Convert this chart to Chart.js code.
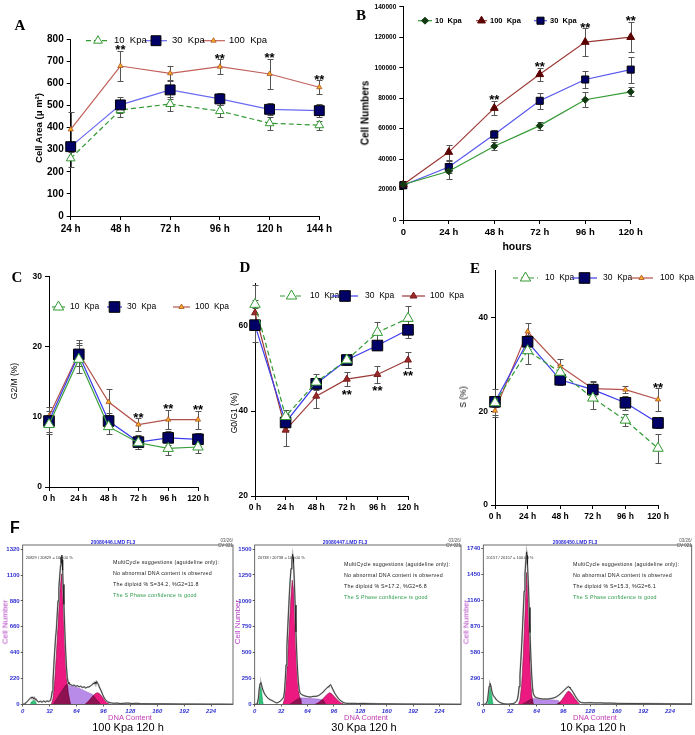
<!DOCTYPE html>
<html>
<head>
<meta charset="utf-8">
<script src="https://cdn.jsdelivr.net/npm/chart.js@4.4.1/dist/chart.umd.min.js"></script>
<style>
  body { margin: 0; width: 695px; height: 735px; position: relative; background: #fff; overflow: hidden;
         font-family: "Liberation Sans", Arial, sans-serif; }
  canvas { position: absolute; }
  .t { position: absolute; white-space: nowrap; line-height: 1; transform: translate(-50%, -50%); }
  .l { position: absolute; white-space: nowrap; line-height: 1; transform: translateY(-50%); }
  .rt { position: absolute; white-space: nowrap; line-height: 1; transform: translate(-100%, -50%); }
  .r { transform: translate(-50%, -50%) rotate(-90deg); }
  .let { font: bold 15px "Liberation Serif", "Times New Roman", serif; }
</style>
</head>
<body>
<script>
// ---------- A : cell area ----------
const timesA = ['24 h', '48 h', '72 h', '96 h', '120 h', '144 h'];
const areaK10 = [261, 480, 507, 475, 420, 411];
const areaK10Err = [40, 30, 30, 28, 30, 20];
const areaK30 = [314, 503, 571, 530, 483, 477];
const areaK30Err = [22, 35, 40, 28, 27, 28];
const areaK100 = [392, 679, 646, 676, 643, 583];
const areaK100Err = [80, 70, 32, 33, 70, 32];
const areaSig = [0, 1, 0, 1, 1, 1];

// ---------- B : cell numbers ----------
const timesB = ['0', '24 h', '48 h', '72 h', '96 h', '120 h'];
const numK10 = [23300, 32000, 48500, 62000, 79000, 84200];
const numK10Err = [2500, 4800, 2800, 2700, 5000, 3000];
const numK100 = [23300, 44600, 73500, 95700, 116900, 120100];
const numK100Err = [2000, 5000, 4800, 4400, 9000, 10000];
const numK30 = [22800, 34800, 56100, 78300, 92300, 98800];
const numK30Err = [1500, 4000, 3300, 5300, 5600, 8500];
const numSig = [0, 0, 1, 1, 1, 1];

// ---------- C, D, E : cell cycle phases ----------
const timesCDE = ['0 h', '24 h', '48 h', '72 h', '96 h', '120 h'];
const g2mK10 = [8.9, 18.2, 8.6, 6.3, 5.5, 5.7];
const g2mK10Err = [1.4, 2.0, 1.1, 0.9, 0.9, 0.9];
const g2mK30 = [9.4, 18.9, 9.4, 6.4, 7.0, 6.8];
const g2mK30Err = [1.5, 1.6, 1.2, 1.0, 1.0, 0.9];
const g2mK100 = [10.1, 19.1, 12.1, 8.9, 9.6, 9.6];
const g2mK100Err = [1.3, 1.9, 1.8, 0.9, 1.4, 1.3];
const g2mSig = [0, 0, 0, 1, 1, 1];

const g01K10 = [65.1, 38.7, 46.8, 52.0, 58.5, 61.8];
const g01K10Err = [4.5, 1.5, 1.8, 1.2, 2.5, 3.0];
const g01K30 = [60.2, 37.3, 46.4, 52.0, 55.4, 59.1];
const g01K30Err = [4.0, 1.8, 1.3, 1.0, 1.0, 2.0];
const g01K100 = [63.1, 35.5, 43.5, 47.5, 48.6, 52.0];
const g01K100Err = [3.0, 3.7, 2.8, 1.7, 2.0, 1.8];
const g01Sig = [0, 0, 0, 1, 1, 1];

const sK10 = [21.8, 32.9, 28.3, 22.8, 18.1, 12.1];
const sK10Err = [3.0, 2.8, 1.5, 2.3, 1.2, 3.1];
const sK30 = [22.0, 34.8, 26.7, 24.6, 21.8, 17.5];
const sK30Err = [1.0, 1.5, 1.2, 1.8, 1.5, 1.1];
const sK100 = [20.1, 37.0, 29.6, 24.8, 24.6, 22.5];
const sK100Err = [1.0, 1.7, 1.6, 1.5, 0.8, 2.4];
const sSig = [0, 0, 0, 0, 0, 1];

// ---------- F : DNA histograms [channel, count] ----------
const hist100 = [[0,0],[2,5],[4,15],[6,30],[8,45],[10,60],[11,55],[12,62],[13,48],[14,58],[15,40],[16,45],[17,30],[19,22],[21,28],[23,20],[25,30],[27,22],[29,30],[31,25],[33,35],[34,60],[35,110],[36,200],[37,330],[38,450],[39,560],[40,640],[41,760],[42,880],[43,990],[44,1090],[45,1180],[45.5,1250],[46,1200],[46.5,1270],[47,1230],[47.5,1140],[48,1020],[49,850],[50,640],[51,460],[52,320],[53,230],[54,190],[55,175],[57,170],[59,160],[61,165],[63,155],[65,160],[67,150],[69,155],[71,145],[73,150],[75,140],[77,148],[79,150],[81,160],[83,170],[84,182],[85,175],[86,190],[87,178],[88,195],[89,180],[90,170],[91,150],[93,120],[95,85],[97,55],[99,35],[101,22],[104,15],[108,10],[112,12],[116,8],[120,10],[125,12],[130,8],[135,10],[140,7],[150,6],[160,6],[175,5],[190,4],[205,4],[220,3],[235,3],[250,2]];
const g1Fit100 = [[34,0],[36,50],[38,200],[40,420],[42,680],[44,930],[46,1110],[47,1060],[48,880],[50,520],[52,250],[54,100],[56,25],[57,0]];
const sFit100 = [[36,0],[51.5,170],[60,158],[68,135],[76,108],[83,86],[88,40],[93,0]];
const g2Fit100 = [[74,0],[78,25],[81,50],[84,78],[87,96],[89,100],[91,94],[94,70],[97,42],[100,18],[103,5],[105,0]];
const ovlA100 = [[36,0],[51.5,170],[53,168],[54,100],[56,25],[57,0]];
const ovlB100 = [[74,0],[78,25],[81,50],[84,77],[86,58],[88,40],[93,0]];
const debris100 = [[9,0],[10,20],[12,32],[14,34],[15,25],[16,10],[17,0]];

const hist30 = [[0,0],[3,5],[4.5,60],[5.5,150],[6.5,200],[7.5,212],[8.5,180],[10,140],[11.5,110],[13,90],[15,70],[17,55],[19,45],[21,38],[23,30],[25,20],[27,15],[29,22],[31,33],[33,48],[35,70],[36,120],[37,230],[38,380],[39,560],[40,730],[41,900],[42,1060],[43,1200],[44,1310],[45,1380],[46,1450],[46.5,1420],[47,1370],[48,1200],[49,960],[50,700],[51,480],[52,320],[53,210],[54,140],[55,110],[57,95],[59,88],[61,82],[63,78],[65,75],[67,72],[69,75],[71,78],[73,78],[75,80],[77,85],[79,95],[81,108],[83,120],[85,140],[87,156],[89,170],[90,178],[91,185],[92,190],[93,175],[95,140],[97,110],[99,85],[101,62],[103,45],[105,32],[107,22],[110,12],[115,10],[120,11],[125,9],[130,10],[140,8],[150,7],[165,6],[180,5],[200,4],[225,3],[250,2]];
const g1Fit30 = [[34,0],[36,50],[38,210],[40,460],[42,760],[44,1050],[45.5,1200],[47,1120],[48,920],[50,520],[52,240],[54,90],[56,20],[57,0]];
const sFit30 = [[42,0],[54.5,66],[62,62],[70,57],[78,52],[83,45],[86,0]];
const g2Fit30 = [[73,0],[77,15],[81,40],[85,75],[88,100],[90.5,114],[93,105],[96,80],[100,45],[104,18],[108,4],[110,0]];
const ovlA30 = [[42,0],[54,63],[55,55],[56,20],[57,0]];
const ovlB30 = [[73,0],[77,15],[81,40],[83,45],[86,0]];
const debris30 = [[4,0],[5,60],[6.5,170],[7.5,195],[8.5,120],[9.5,40],[10.5,0]];

const hist10 = [[0,0],[3,5],[5,40],[6,120],[7,200],[8,235],[9,210],[10,160],[11,120],[12,100],[14,75],[16,50],[18,35],[20,23],[22,15],[24,10],[26,6],[28,5],[30,4],[32,6],[34,8],[36,10],[38,20],[40,38],[41,60],[42,110],[43,200],[44,330],[45,480],[46,650],[47,840],[48,1050],[49,1260],[50,1450],[51,1600],[52,1700],[52.5,1660],[53,1560],[54,1350],[55,1080],[56,800],[57,540],[58,330],[59,190],[60,120],[62,85],[64,75],[66,70],[68,66],[70,63],[72,60],[74,62],[76,60],[78,62],[80,64],[82,68],[84,72],[86,78],[88,88],[90,100],[92,115],[94,132],[96,150],[98,168],[100,185],[102,200],[103,195],[104,185],[106,160],[108,132],[110,100],[112,70],[114,45],[116,28],[118,20],[122,18],[128,20],[134,17],[140,18],[146,15],[152,16],[160,13],[175,11],[190,10],[205,9],[220,8],[235,7],[250,6]];
const g1Fit10 = [[42,0],[44,50],[46,220],[48,560],[50,1000],[51,1260],[52,1470],[53,1330],[54,1050],[55,760],[56,480],[57,260],[58,120],[59,50],[60,0]];
const sFit10 = [[46,0],[59,68],[66,65],[74,58],[82,52],[90,45],[93,0]];
const g2Fit10 = [[88,0],[91,20],[94,50],[97,90],[100,130],[102,150],[104,140],[107,105],[110,65],[113,30],[116,0]];
const ovlA10 = [[46,0],[58,63],[59,50],[60,0]];
const ovlB10 = [[88,0],[91,20],[92,15],[93,0]];
const debris10 = [[5,0],[6,80],[7,170],[8,225],[9,190],[10,110],[11,40],[12,0]];

const histYTicks = [
  [0, 220, 440, 660, 880, 1100, 1320],
  [0, 250, 500, 750, 1000, 1250, 1500],
  [0, 290, 580, 870, 1160, 1450, 1740]
];
const histXTicks = [0, 32, 64, 96, 128, 160, 192, 224];
const histYTop = [1355, 1539, 1776];

// ---------------------------------------------------------------
Chart.defaults.font.family = '"Liberation Sans", Arial, sans-serif';
Chart.defaults.color = '#000';
Chart.defaults.animation = false;
Chart.defaults.events = [];
Chart.defaults.plugins.legend.display = false;
Chart.defaults.plugins.tooltip.enabled = false;

function txt(s, x, y, css, cls) {
  var d = document.createElement('div');
  d.className = cls || 't';
  d.textContent = s;
  d.style.cssText = 'left:' + x + 'px;top:' + y + 'px;' + (css || '');
  document.body.appendChild(d);
  return d;
}

function place(box) {
  var c = document.createElement('canvas');
  c.width = box[2]; c.height = box[3];
  c.style.left = box[0] + 'px'; c.style.top = box[1] + 'px';
  c.style.width = box[2] + 'px'; c.style.height = box[3] + 'px';
  document.body.appendChild(c);
  return c;
}

function marker(ctx, ds, x, y) {
  ctx.fillStyle = ds.pointBackgroundColor;
  ctx.strokeStyle = ds.pointBorderColor;
  ctx.lineWidth = ds.pointBorderWidth;
  Chart.helpers.drawPoint(ctx, {pointStyle: ds.pointStyle, radius: ds.pointRadius,
    borderWidth: ds.pointBorderWidth, rotation: 0}, x, y);
}

// error bars, significance stars and the in-plot legend
var extras = {
  id: 'extras',
  beforeDatasetsDraw: function(chart, args, o) {
    if (!o.err) return;
    var ctx = chart.ctx, ys = chart.scales.y;
    ctx.save();
    ctx.strokeStyle = o.errColor || '#555';
    ctx.lineWidth = 1;
    chart.data.datasets.forEach(function(ds, i) {
      var meta = chart.getDatasetMeta(i);
      ds.data.forEach(function(v, j) {
        var e = o.err[i][j];
        var x = Math.round(meta.data[j].x) + 0.5;
        var y1 = Math.round(ys.getPixelForValue(v + e)) + 0.5;
        var y2 = Math.round(ys.getPixelForValue(v - e)) + 0.5;
        ctx.beginPath();
        ctx.moveTo(x, y1); ctx.lineTo(x, y2);
        ctx.moveTo(x - 3, y1); ctx.lineTo(x + 3, y1);
        ctx.moveTo(x - 3, y2); ctx.lineTo(x + 3, y2);
        ctx.stroke();
      });
    });
    ctx.restore();
  },
  afterDatasetsDraw: function(chart, args, o) {
    var ctx = chart.ctx, ys = chart.scales.y, xs = chart.scales.x;
    ctx.save();
    if (o.sig) {
      ctx.font = 'bold 13px "Liberation Sans", Arial';
      ctx.fillStyle = '#000';
      ctx.textAlign = 'center';
      ctx.textBaseline = 'alphabetic';
      o.sig.forEach(function(s, j) {
        if (!s) return;
        var ext = null;
        chart.data.datasets.forEach(function(ds, i) {
          var v = o.below ? ds.data[j] - o.err[i][j] : ds.data[j] + o.err[i][j];
          if (ext === null || (o.below ? v < ext : v > ext)) ext = v;
        });
        var yc = ys.getPixelForValue(ext) + (o.below ? 5 : -4);
        ctx.fillText('**', xs.getPixelForValue(j), yc + 7.5);
      });
    }
    if (o.legend) {
      var L = o.legend;
      chart.data.datasets.forEach(function(ds, i) {
        var it = L.items[i], y = L.y - L.oy;
        ctx.strokeStyle = ds.borderColor;
        ctx.lineWidth = ds.borderWidth;
        ctx.setLineDash(ds.borderDash || []);
        ctx.beginPath();
        ctx.moveTo(it[0] - L.ox, y); ctx.lineTo(it[1] - L.ox, y);
        ctx.stroke();
        ctx.setLineDash([]);
        marker(ctx, ds, (it[0] + it[1]) / 2 - L.ox, y);
        ctx.fillStyle = '#000';
        ctx.font = L.font;
        ctx.textAlign = 'left';
        ctx.textBaseline = 'middle';
        ctx.fillText(ds.label, it[2] - L.ox, y);
      });
    }
    ctx.restore();
  }
};

var frame = {
  id: 'frame',
  afterDraw: function(chart) {
    var a = chart.chartArea, ctx = chart.ctx;
    ctx.save();
    ctx.strokeStyle = '#444'; ctx.lineWidth = 0.8;
    ctx.strokeRect(a.left, a.top, a.right - a.left, a.bottom - a.top);
    ctx.restore();
  }
};

// series styles
var GREEN = '#339933', BLUE = '#5656ee', BROWN = '#b3524c';
function openTri(r) { return {pointStyle: 'triangle', pointRadius: r, pointBackgroundColor: '#fff', pointBorderColor: GREEN, pointBorderWidth: 1}; }
function navySq(r) { return {pointStyle: 'rect', pointRadius: r, pointBackgroundColor: '#000066', pointBorderColor: '#000', pointBorderWidth: 1}; }
function orangeTri(r) { return {pointStyle: 'triangle', pointRadius: r, pointBackgroundColor: '#ffb020', pointBorderColor: '#a8502a', pointBorderWidth: 0.8}; }

function series(label, data, color, dash, mk) {
  return Object.assign({label: label, data: data, borderColor: color, borderWidth: 1.2,
    borderDash: dash ? [5, 3] : [], tension: 0, fill: false, clip: false}, mk);
}

function lineChart(box, area, c) {
  var cv = place(box);
  var bx = box[0], by = box[1], bw = box[2], bh = box[3];
  var grid = {display: true, drawOnChartArea: false, drawTicks: true, tickLength: 4, color: '#000', lineWidth: 1};
  return new Chart(cv, {
    type: 'line',
    data: {labels: c.labels, datasets: c.datasets},
    options: {
      responsive: false, devicePixelRatio: 1,
      layout: {padding: {left: 0, top: area.t - by, right: bx + bw - area.r, bottom: 0}},
      scales: {
        x: {type: 'category', offset: false, border: {color: '#000', width: 1}, grid: grid,
            ticks: {font: c.xFont, color: '#000', autoSkip: false, maxRotation: 0, padding: 3},
            afterFit: function(s) { s.height = by + bh - area.b; }},
        y: {min: c.min, max: c.max, border: {color: '#000', width: 1}, grid: grid,
            ticks: {font: c.yFont, color: '#000', stepSize: c.step, includeBounds: false, padding: 3,
                    callback: function(v) { return String(v); }},
            afterFit: function(s) { s.width = area.l - bx; }}
      },
      plugins: {extras: {err: c.err, sig: c.sig, below: c.below, errColor: c.errColor,
        legend: {items: c.legend, y: c.legendY, ox: bx, oy: by, font: c.legendFont}}}
    },
    plugins: [extras]
  });
}

function pts(a) { return a.map(function(p) { return {x: p[0], y: p[1]}; }); }
function tickList(vals) { return vals.map(function(v) { return {value: v}; }); }

function histChart(box, area, h, k) {
  var cv = place(box);
  var bx = box[0], by = box[1], bw = box[2], bh = box[3];
  var grid = {display: true, drawOnChartArea: false, drawTicks: true, tickLength: 2, color: '#333', lineWidth: 0.8};
  function area_(d, bg, bc, bwid) {
    return {data: pts(d), backgroundColor: bg, borderColor: bc, borderWidth: bwid, fill: 'origin', pointRadius: 0, tension: 0};
  }
  return new Chart(cv, {
    type: 'line',
    data: {datasets: [
      {data: pts(h.raw), borderColor: '#111', borderWidth: 0.7, pointRadius: 0, fill: false, tension: 0},
      {data: pts(h.raw), borderColor: '#b4b4b4', borderWidth: 1.7, pointRadius: 0, fill: false, tension: 0},
      area_(h.debris, '#2fc47a', '#1d8a55', 0.5),
      area_(h.ovlA, '#8c1252', '#6a0a3c', 0.5),
      area_(h.ovlB, '#8c1252', '#6a0a3c', 0.5),
      area_(h.g1, '#ec1a80', '#7a1040', 0.6),
      area_(h.g2, '#ec1a80', '#7a1040', 0.6),
      area_(h.s, '#b98be8', '#8a5ab8', 0.4)
    ]},
    options: {
      responsive: false, devicePixelRatio: 1,
      layout: {padding: {left: 0, top: area.t - by, right: bx + bw - area.r, bottom: 0}},
      scales: {
        x: {type: 'linear', min: 0, max: 250, border: {display: false}, grid: grid,
            afterBuildTicks: function(s) { s.ticks = tickList(histXTicks); },
            ticks: {color: '#3030d0', padding: 1, font: {size: 6, weight: 'bold', style: 'italic'}},
            afterFit: function(s) { s.height = by + bh - area.b; }},
        y: {min: 0, max: histYTop[k], border: {display: false}, grid: grid,
            afterBuildTicks: function(s) { s.ticks = tickList(histYTicks[k]); },
            ticks: {color: '#3030d0', padding: 1, font: {size: 6, weight: 'bold'},
                    callback: function(v) { return String(v); }},
            afterFit: function(s) { s.width = area.l - bx; }}
      }
    },
    plugins: [frame]
  });
}

// ---------- A ----------
lineChart([0, 0, 345, 245], {l: 70.7, t: 39.3, r: 319.3, b: 216}, {
  labels: timesA, min: 0, max: 800, step: 100,
  xFont: {size: 10, weight: 'bold'}, yFont: {size: 10, weight: 'bold'},
  datasets: [
    series('100  Kpa', areaK100, '#c0605a', false, orangeTri(3)),
    series('30  Kpa', areaK30, '#6a6af2', false, navySq(7)),
    series('10  Kpa', areaK10, GREEN, true, openTri(5))
  ],
  err: [areaK100Err, areaK30Err, areaK10Err], sig: areaSig,
  legend: [[202, 225, 229], [145, 167, 172], [86, 110, 114]], legendY: 40.7, legendFont: '9.5px "Liberation Sans", Arial'
});

// ---------- B ----------
lineChart([350, 0, 345, 255], {l: 403.3, t: 5.7, r: 630.7, b: 220}, {
  labels: timesB, min: 0, max: 140000, step: 20000,
  xFont: {size: 9.5, weight: 'bold'}, yFont: {size: 6.5, weight: 'bold'},
  datasets: [
    series('10  Kpa', numK10, GREEN, false, {pointStyle: 'rectRot', pointRadius: 3.5, pointBackgroundColor: '#123a12', pointBorderColor: '#123a12', pointBorderWidth: 1}),
    series('100  Kpa', numK100, '#9a3a36', false, {pointStyle: 'triangle', pointRadius: 4.5, pointBackgroundColor: '#5a0000', pointBorderColor: '#5a0000', pointBorderWidth: 1}),
    series('30  Kpa', numK30, BLUE, false, navySq(5))
  ],
  err: [numK10Err, numK100Err, numK30Err], sig: numSig,
  legend: [[418, 432, 435], [476, 487, 490], [534, 547, 550]], legendY: 20.7, legendFont: 'bold 7.5px "Liberation Sans", Arial'
});

// ---------- C ----------
lineChart([0, 268, 230, 250], {l: 49, t: 276, r: 198, b: 487}, {
  labels: timesCDE, min: 0, max: 30, step: 10,
  xFont: {size: 8.5, weight: 'bold'}, yFont: {size: 8.5, weight: 'bold'},
  datasets: [
    series('10  Kpa', g2mK10, '#3aa03a', false, openTri(6)),
    series('30  Kpa', g2mK30, '#3c3cee', false, navySq(7.5)),
    series('100  Kpa', g2mK100, BROWN, false, orangeTri(3))
  ],
  err: [g2mK10Err, g2mK30Err, g2mK100Err], sig: g2mSig,
  legend: [[52, 65, 70], [107, 122, 127], [173, 190, 195]], legendY: 307, legendFont: '8.5px "Liberation Sans", Arial'
});

// ---------- D ----------
lineChart([228, 268, 244, 250], {l: 255, t: 283.5, r: 408, b: 496}, {
  labels: timesCDE, min: 20, max: 70, step: 20,
  xFont: {size: 8.5, weight: 'bold'}, yFont: {size: 8.5, weight: 'bold'},
  datasets: [
    series('10  Kpa', g01K10, GREEN, true, openTri(6)),
    series('30  Kpa', g01K30, '#3c3cee', false, navySq(7.5)),
    series('100  Kpa', g01K100, '#9a3a36', false, {pointStyle: 'triangle', pointRadius: 4, pointBackgroundColor: '#9a2a2a', pointBorderColor: '#7a1a1a', pointBorderWidth: 1})
  ],
  err: [g01K10Err, g01K30Err, g01K100Err], sig: g01Sig, below: true,
  legend: [[280, 303, 310], [332, 358, 365], [402, 425, 430]], legendY: 296, legendFont: '8.5px "Liberation Sans", Arial'
});

// ---------- E ----------
lineChart([460, 262, 235, 265], {l: 495, t: 270, r: 658, b: 505}, {
  labels: timesCDE, min: 0, max: 50, step: 20,
  xFont: {size: 8.5, weight: 'bold'}, yFont: {size: 8.5, weight: 'bold'},
  datasets: [
    series('10  Kpa', sK10, GREEN, true, openTri(6)),
    series('30  Kpa', sK30, '#3c3cee', false, navySq(7.5)),
    series('100  Kpa', sK100, BROWN, false, orangeTri(3))
  ],
  err: [sK10Err, sK30Err, sK100Err], sig: sSig,
  legend: [[513, 538, 545], [572, 597, 603], [630, 653, 660]], legendY: 278, legendFont: '8.5px "Liberation Sans", Arial'
});

// ---------- F ----------
histChart([0, 535, 240, 180], {l: 22.7, t: 545, r: 233, b: 704.5},
  {raw: hist100, g1: g1Fit100, s: sFit100, g2: g2Fit100, ovlA: ovlA100, ovlB: ovlB100, debris: debris100}, 0);
histChart([232, 535, 235, 180], {l: 254.7, t: 545, r: 461, b: 704.5},
  {raw: hist30, g1: g1Fit30, s: sFit30, g2: g2Fit30, ovlA: ovlA30, ovlB: ovlB30, debris: debris30}, 1);
histChart([460, 535, 235, 180], {l: 483.3, t: 545, r: 691.7, b: 704.5},
  {raw: hist10, g1: g1Fit10, s: sFit10, g2: g2Fit10, ovlA: ovlA10, ovlB: ovlB10, debris: debris10}, 2);

// ---------- text ----------
txt('A', 20, 25, '', 't let');
txt('B', 361, 15, '', 't let');
txt('C', 17, 277, '', 't let');
txt('D', 245, 267, '', 't let');
txt('E', 475, 268, '', 't let');
txt('F', 15, 528, 'font:bold 16px "Liberation Sans",Arial;');

txt('Cell Area (\u03bc m\u00b2)', 38, 128, 'font:bold 9.5px "Liberation Sans",Arial;', 't r');
txt('Cell Numbers', 365, 113, 'font:bold 10px "Liberation Sans",Arial;', 't r');
txt('hours', 517, 246, 'font:bold 10.5px "Liberation Sans",Arial;');
txt('G2/M (%)', 14, 381, 'font:8.5px "Liberation Sans",Arial;', 't r');
txt('G0/G1 (%)', 234, 413, 'font:8.5px "Liberation Sans",Arial;', 't r');
txt('S (%)', 463, 397, 'font:8.5px "Liberation Sans",Arial;', 't r');

var fPanels = [
  {file: '20080446.LMD FL3', cx: 113, l: 22.7, r: 233, tx: 113, ty: [562, 573, 584, 595], pct: '20829 / 20829 = 100.00 %', diploid: 'The diploid % S=34.2, %G2=11.8', cap: '100 Kpa 120 h', cc: 128},
  {file: '20080447.LMD FL3', cx: 345, l: 254.7, r: 461, tx: 344, ty: [564, 575, 586, 597], pct: '20738 / 20738 = 100.00 %', diploid: 'The diploid % S=17.2, %G2=6.8', cap: '30 Kpa 120 h', cc: 364},
  {file: '20080450.LMD FL3', cx: 575, l: 483.3, r: 691.7, tx: 573, ty: [564, 575, 586, 597], pct: '20157 / 20157 = 100.00 %', diploid: 'The diploid % S=15.3, %G2=6.1', cap: '10 Kpa 120 h', cc: 593}
];
fPanels.forEach(function(p) {
  txt(p.file, p.cx, 542, 'font:bold 5px "Liberation Sans",Arial;color:#2a2ad8;');
  txt('03/26/', p.r, 540, 'font:4.5px "Liberation Sans",Arial;color:#555;', 'rt');
  txt('CV 021', p.r, 545, 'font:4.5px "Liberation Sans",Arial;color:#555;', 'rt');
  txt(p.pct, p.l + 3, 557, 'font:4px "Liberation Sans",Arial;color:#333;', 'l');
  var st = 'font:5.3px "Liberation Sans",Arial;letter-spacing:0.25px;color:#222;';
  txt('MultiCycle suggestions (aguideline only):', p.tx, p.ty[0], st, 'l');
  txt('No abnormal DNA content is observed', p.tx, p.ty[1], st, 'l');
  txt(p.diploid, p.tx, p.ty[2], st, 'l');
  txt('The S Phase confidence is good', p.tx, p.ty[3], st + 'color:#2a9a4a;', 'l');
  txt('Cell Number', p.l - 17.5, 622, 'font:8px "Liberation Sans",Arial;color:#b03cc0;', 't r');
  txt('DNA Content', p.cc + 2, 717, 'font:7.5px "Liberation Sans",Arial;color:#c03cb0;');
  txt(p.cap, p.cc, 727, 'font:11px "Liberation Sans",Arial;color:#000;');
});
</script>
</body>
</html>
